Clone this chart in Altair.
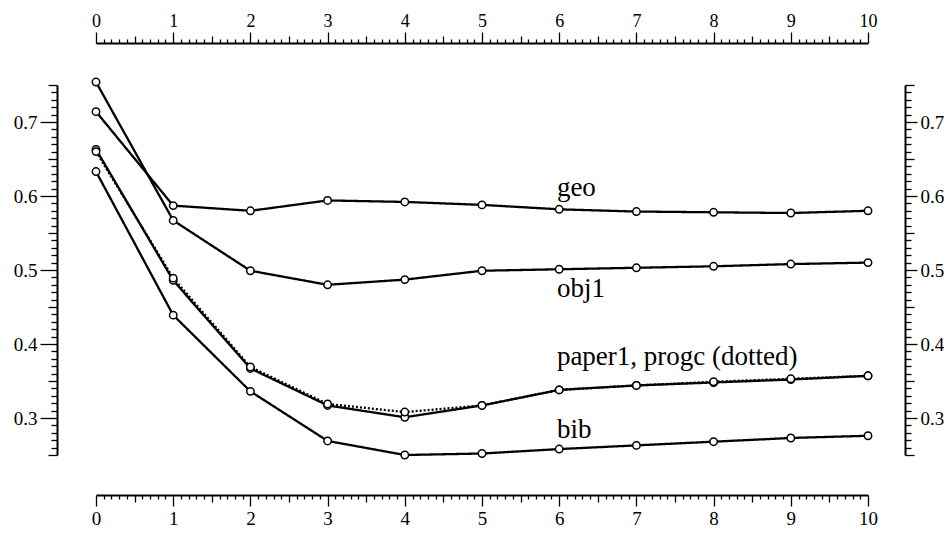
import altair as alt
import pandas as pd

# ---- data ----
steps = [0, 1, 2, 3, 4, 5, 6, 7, 8, 9, 10]
geo = [0.714, 0.587, 0.580, 0.594, 0.592, 0.588, 0.582, 0.579, 0.578, 0.577, 0.580]
obj1 = [0.754, 0.567, 0.499, 0.480, 0.487, 0.499, 0.501, 0.503, 0.505, 0.508, 0.510]
paper1 = [0.663, 0.486, 0.367, 0.317, 0.301, 0.317, 0.338, 0.344, 0.348, 0.352, 0.357]
progc = [0.660, 0.489, 0.369, 0.319, 0.308, 0.317, 0.338, 0.344, 0.349, 0.353, 0.357]
bib = [0.633, 0.439, 0.336, 0.269, 0.250, 0.252, 0.258, 0.263, 0.268, 0.273, 0.276]
series_names = ["geo", "obj1", "paper1", "progc", "bib"]

label_text = ["geo", "obj1", "paper1, progc (dotted)", "bib"]
label_x = [5.97, 5.97, 5.97, 5.97]
label_y = [0.611, 0.475, 0.382, 0.284]

rows = []
for name, vals in zip(series_names, [geo, obj1, paper1, progc, bib]):
    for s, v in zip(steps, vals):
        rows.append({"step": s, "value": v, "series": name})
df = pd.DataFrame(rows)
labels_df = pd.DataFrame({"text": label_text, "step": label_x, "value": label_y})

x_ticks = [round(i * 0.1, 1) for i in range(0, 101)]
y_ticks = [round(0.25 + i * 0.01, 2) for i in range(0, 51)]

FONT = "Liberation Serif"


def tick_size(mult, major, medium, minor):
    return {
        "condition": [
            {"test": f"abs(datum.value * {mult} - round(datum.value * {mult})) < 1e-6", "value": major},
            {"test": f"abs(datum.value * {mult * 2} - round(datum.value * {mult * 2})) < 1e-6", "value": medium},
        ],
        "value": minor,
    }


x_label_expr = "abs(datum.value - round(datum.value)) < 1e-6 ? format(datum.value, 'd') : ''"
y_label_expr = "abs(datum.value * 10 - round(datum.value * 10)) < 1e-6 ? format(datum.value, '.1f') : ''"

common = dict(
    domainColor="black", domainWidth=2, tickColor="black", tickWidth=1.3,
    labelFont=FONT, labelColor="black",
    labelOverlap=False, labelFlush=False, grid=False, title=None,
)


def x_axis(orient, off, pad, size):
    return alt.Axis(orient=orient, offset=off, values=x_ticks, tickSize=tick_size(1, 11, 7, 4),
                    labelExpr=x_label_expr, labelPadding=pad, labelFontSize=size, **common)


def y_axis(orient, off, major):
    return alt.Axis(orient=orient, offset=off, values=y_ticks,
                    tickSize=tick_size(10, major, 9, 6),
                    labelExpr=y_label_expr, labelPadding=3, labelFontSize=19, **common)


x_scale = alt.Scale(domain=[0, 10], nice=False, zero=False)
y_scale = alt.Scale(domain=[0.25, 0.75], nice=False, zero=False)

base = alt.Chart(df)

lines = base.mark_line(color="black", strokeWidth=2.3, clip=False).encode(
    x=alt.X("step:Q", scale=x_scale, axis=x_axis("bottom", 40, 3, 19)),
    y=alt.Y("value:Q", scale=y_scale, axis=y_axis("left", 39, 17)),
    detail="series:N",
    strokeDash=alt.condition(alt.datum.series == "progc", alt.value([2, 2]), alt.value([1, 0])),
)

points = base.mark_point(shape="circle", filled=True, fill="white", stroke="black",
                         strokeWidth=1.5, size=55, opacity=1, clip=False).encode(
    x=alt.X("step:Q", scale=x_scale, axis=x_axis("top", 42, 2, 18)),
    y=alt.Y("value:Q", scale=y_scale, axis=y_axis("right", 37, 12)),
)

texts = alt.Chart(labels_df).mark_text(align="left", baseline="middle", font=FONT,
                                       fontSize=27, color="black").encode(
    x=alt.X("step:Q", scale=x_scale, axis=None),
    y=alt.Y("value:Q", scale=y_scale, axis=None),
    text="text:N",
)

chart = alt.layer(lines, points, texts).resolve_scale(
    x="shared", y="shared"
).resolve_axis(
    x="independent", y="independent"
).properties(
    width=772, height=370,
    autosize=alt.AutoSizeParams(type="none"),
    padding={"left": 88, "top": 77, "right": 76, "bottom": 73},
    background="white",
).configure_view(stroke=None)

chart.save("out.html", embed_options={"renderer": "svg", "actions": False})
